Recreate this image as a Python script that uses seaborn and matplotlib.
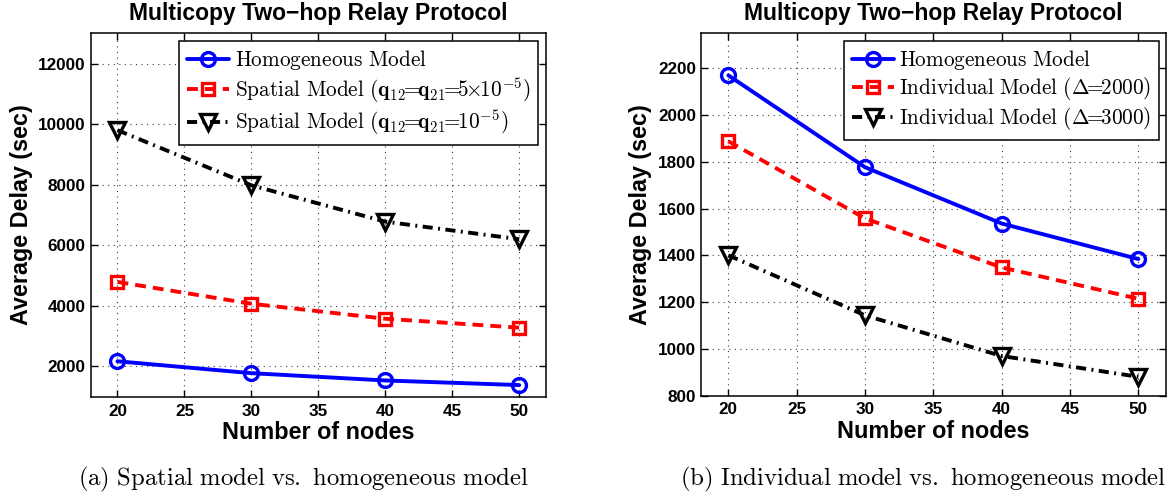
import matplotlib
matplotlib.use("Agg")
import matplotlib.pyplot as plt
import seaborn as sns
import pandas as pd

# ---- data ----
nodes = [20, 30, 40, 50]

homogeneous = [2170, 1777, 1536, 1384]
spatial_q5e5 = [4790, 4070, 3575, 3280]
spatial_q1e5 = [9800, 7980, 6780, 6200]
individual_d2000 = [1888, 1558, 1348, 1214]
individual_d3000 = [1400, 1143, 969, 880]

title_text = "Multicopy Two\u2212hop Relay Protocol"
xlabel_text = "Number of nodes"
ylabel_text = "Average Delay (sec)"

left_labels = [
    r"$\mathrm{Homogeneous\ Model}$",
    r"$\mathrm{Spatial\ Model}\ (\mathbf{q_{12}\!\!=\!\!q_{21}\!\!=\!\!5\!\!\times\!\!10^{-5}})$",
    r"$\mathrm{Spatial\ Model}\ (\mathbf{q_{12}\!\!=\!\!q_{21}\!\!=\!\!10^{-5}})$",
]
right_labels = [
    r"$\mathrm{Homogeneous\ Model}$",
    r"$\mathrm{Individual\ Model}\ (\mathbf{\Delta\!\!=\!\!2000})$",
    r"$\mathrm{Individual\ Model}\ (\mathbf{\Delta\!\!=\!\!3000})$",
]
captions = [
    r"$\mathrm{(a)\ Spatial\ model\ vs.\ homogeneous\ model}$",
    r"$\mathrm{(b)\ Individual\ model\ vs.\ homogeneous\ model}$",
]

# ---- style ----
sns.set_theme(style="ticks")
plt.rcParams["font.family"] = ["Liberation Sans", "DejaVu Sans"]
plt.rcParams["font.weight"] = "bold"
plt.rcParams["mathtext.fontset"] = "cm"
for key in ["text.color", "axes.labelcolor", "xtick.color", "ytick.color",
            "axes.edgecolor"]:
    plt.rcParams[key] = "black"

series_styles = [
    dict(color="#0000ff", linestyle="-", marker="o", markersize=10),
    dict(color="#ff0000", linestyle=(0, (2.8, 1.8)), marker="s", markersize=9),
    dict(color="#000000", linestyle=(0, (2.6, 1.4, 0.5, 1.4)), marker="v", markersize=11),
]

fig = plt.figure(figsize=(11.72, 4.96), dpi=100)
W, H = 1172, 496
ax_l = fig.add_axes([90.7 / W, 1 - 396.7 / H, (546 - 90.7) / W, (396.7 - 33.3) / H])
ax_r = fig.add_axes([701 / W, 1 - 395.5 / H, (1165.7 - 701) / W, (395.5 - 33.3) / H])


def draw(ax, series, labels, ylim, yticks, legend_x):
    for vals, lab, st in zip(series, labels, series_styles):
        df = pd.DataFrame({"nodes": nodes, "delay": vals})
        sns.lineplot(
            data=df, x="nodes", y="delay", ax=ax, label=lab,
            color=st["color"], linestyle=st["linestyle"], linewidth=2.8,
            marker=st["marker"], markersize=st["markersize"],
            markerfacecolor="none", markeredgecolor=st["color"],
            markeredgewidth=2.4, estimator=None, sort=False,
        )
    ax.set_xlim(18, 52)
    ax.set_ylim(*ylim)
    ax.set_xticks([20, 25, 30, 35, 40, 45, 50])
    ax.set_yticks(yticks)
    ax.grid(True, linestyle=(0, (1, 4)), color="0.25", linewidth=0.8)
    ax.tick_params(direction="in", top=True, right=True, length=5, width=1,
                   labelsize=12.3, color="black", labelcolor="black")
    ax.tick_params(axis="y", pad=3.5)
    ax.tick_params(axis="x", pad=5)
    for lab in ax.get_xticklabels() + ax.get_yticklabels():
        lab.set_fontweight("bold")
    for sp in ax.spines.values():
        sp.set_visible(True)
        sp.set_linewidth(1.1)
        sp.set_color("black")
    ax.set_xlabel(xlabel_text, fontsize=16.8, fontweight="bold", labelpad=2)
    ax.set_ylabel(ylabel_text, fontsize=16.8, fontweight="bold", labelpad=4)
    ax.set_title(title_text, fontsize=16.5, fontweight="bold", pad=9.5)
    leg = ax.legend(loc="upper right", bbox_to_anchor=(legend_x, 0.98),
                    fontsize=15.3, frameon=True, fancybox=False, framealpha=1,
                    edgecolor="black", handlelength=2.0, handletextpad=0.25,
                    borderpad=0.35, labelspacing=0.15, borderaxespad=0)
    leg.get_frame().set_linewidth(1.1)


draw(ax_l, [homogeneous, spatial_q5e5, spatial_q1e5], left_labels,
     (1000, 13000), [2000, 4000, 6000, 8000, 10000, 12000], 0.982)
draw(ax_r, [homogeneous, individual_d2000, individual_d3000], right_labels,
     (800, 2350), [800, 1000, 1200, 1400, 1600, 1800, 2000, 2200], 0.9856)

fig.text(303 / W, 1 - 479 / H, captions[0], ha="center", va="center", fontsize=17.8)
fig.text(923 / W, 1 - 479 / H, captions[1], ha="center", va="center", fontsize=17.8)

fig.savefig("out.png", dpi=100)
